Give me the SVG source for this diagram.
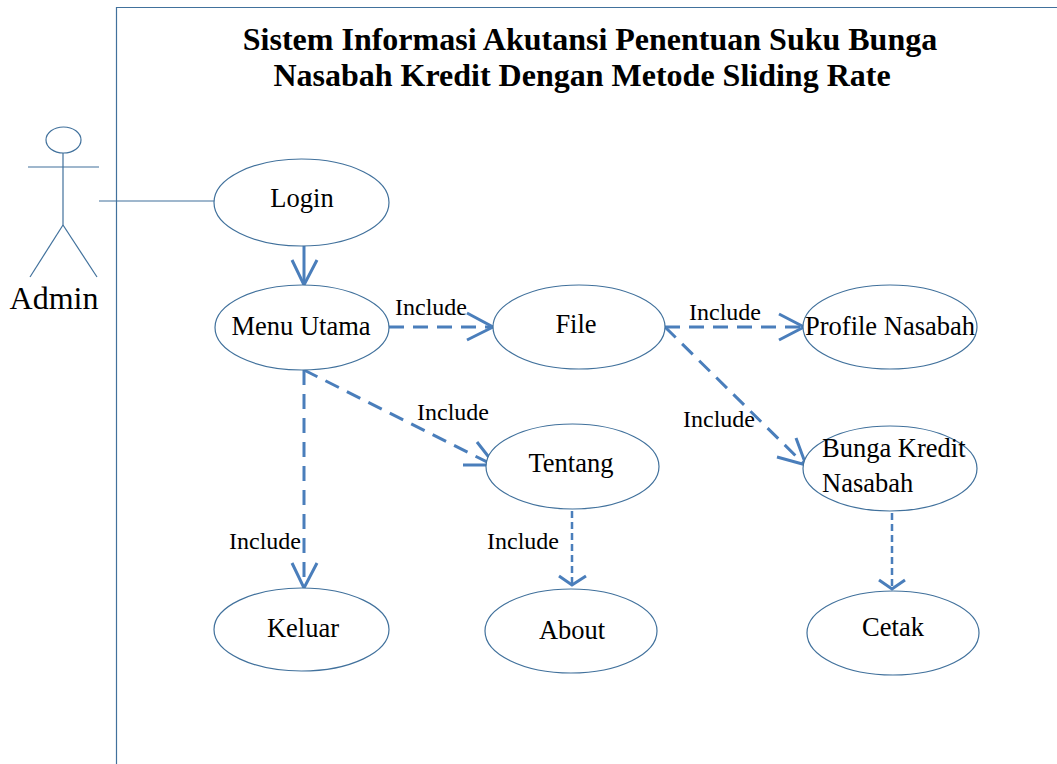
<svg xmlns="http://www.w3.org/2000/svg" width="1057" height="764" viewBox="0 0 1057 764">
  <style>
    .uc { fill: #ffffff; stroke: #41719c; stroke-width: 1.2; }
    .lbl { font-family: "Liberation Serif", "Times New Roman", serif; font-size: 26.5px; fill: #000; }
    .inc { font-family: "Liberation Serif", "Times New Roman", serif; font-size: 24px; fill: #000; }
    .title { font-family: "Liberation Serif", "Times New Roman", serif; font-size: 32px; font-weight: bold; fill: #000; }
    .actor { fill: none; stroke: #41719c; stroke-width: 1.2; }
    .dash { fill: none; stroke: #4a7ebb; stroke-width: 3; stroke-dasharray: 15 9; }
    .dash-s { fill: none; stroke: #4a7ebb; stroke-width: 2.5; stroke-dasharray: 7 4; }
    .head { fill: none; stroke: #4a7ebb; stroke-width: 3; stroke-linejoin: miter; }
    .solid { fill: none; stroke: #4a7ebb; stroke-width: 3; }
  </style>

  <!-- system boundary -->
  <g id="boundary">
    <path d="M116.5,764 V7.5 H1057" fill="none" stroke="#41719c" stroke-width="1.2"/>
    <text class="title" x="590" y="50" text-anchor="middle">Sistem Informasi Akutansi Penentuan Suku Bunga</text>
    <text class="title" x="582" y="86" text-anchor="middle">Nasabah Kredit Dengan Metode Sliding Rate</text>
  </g>

  <!-- actor -->
  <g id="admin">
    <ellipse class="actor" cx="63.5" cy="140" rx="17.5" ry="13"/>
    <line class="actor" x1="63" y1="153" x2="63" y2="225"/>
    <line class="actor" x1="28" y1="167" x2="99" y2="167"/>
    <line class="actor" x1="63" y1="225" x2="30" y2="277"/>
    <line class="actor" x1="63" y1="225" x2="97" y2="277"/>
    <text x="54" y="309" text-anchor="middle" font-family="'Liberation Serif', 'Times New Roman', serif" font-size="32">Admin</text>
  </g>

  <!-- connectors -->
  <g id="connectors">
    <!-- association -->
    <line x1="99" y1="201" x2="215" y2="201" stroke="#41719c" stroke-width="1.2"/>
    <!-- Login to Menu Utama -->
    <line class="solid" x1="304" y1="246" x2="304" y2="284"/>
    <path class="head" d="M292,260 L304,285 L317,260"/>
    <!-- Menu Utama to File -->
    <line class="dash" x1="389" y1="327" x2="492" y2="327"/>
    <path class="head" d="M467,313 L493,327 L467,340"/>
    <text class="inc" x="395" y="315">Include</text>
    <!-- File to Profile Nasabah -->
    <line class="dash" x1="665" y1="327" x2="802" y2="327"/>
    <path class="head" d="M779,314 L804,327 L779,340"/>
    <text class="inc" x="689" y="320">Include</text>
    <!-- File to Bunga Kredit Nasabah -->
    <line class="dash" x1="665" y1="327" x2="804" y2="464"/>
    <path class="head" d="M796,438 L806,465 L777,457"/>
    <text class="inc" x="683" y="427">Include</text>
    <!-- Menu Utama to Tentang -->
    <line class="dash" x1="304" y1="370" x2="493" y2="465"/>
    <path class="head" d="M477,442 L495,465 L463,465"/>
    <text class="inc" x="417" y="420">Include</text>
    <!-- Menu Utama to Keluar -->
    <line class="dash" x1="304" y1="370" x2="304" y2="587"/>
    <path class="head" d="M292,563 L304,588 L317,563"/>
    <text class="inc" x="229" y="549">Include</text>
    <!-- Tentang to About -->
    <line class="dash-s" x1="572" y1="511" x2="572" y2="584"/>
    <path class="head" d="M559,576 L572,585 L586,576" stroke-width="2.5"/>
    <text class="inc" x="487" y="549">Include</text>
    <!-- Bunga Kredit Nasabah to Cetak -->
    <line class="dash-s" x1="892" y1="513" x2="892" y2="588"/>
    <path class="head" d="M879,580 L892,589 L905,580" stroke-width="2.5"/>
  </g>

  <!-- use cases -->
  <g id="login">
    <ellipse class="uc" cx="301.5" cy="202.5" rx="87.5" ry="43.5"/>
    <text class="lbl" x="302" y="207" text-anchor="middle">Login</text>
  </g>
  <g id="menu-utama">
    <ellipse class="uc" cx="302" cy="327.5" rx="87" ry="42.5"/>
    <text class="lbl" x="301" y="335" text-anchor="middle">Menu Utama</text>
  </g>
  <g id="file">
    <ellipse class="uc" cx="579" cy="327" rx="86" ry="42"/>
    <text class="lbl" x="576" y="333" text-anchor="middle">File</text>
  </g>
  <g id="profile-nasabah">
    <ellipse class="uc" cx="890" cy="327" rx="87" ry="42"/>
    <text class="lbl" x="890" y="335" text-anchor="middle">Profile Nasabah</text>
  </g>
  <g id="tentang">
    <ellipse class="uc" cx="572.5" cy="466.5" rx="86.5" ry="42.5"/>
    <text class="lbl" x="571" y="472" text-anchor="middle">Tentang</text>
  </g>
  <g id="bunga-kredit-nasabah">
    <ellipse class="uc" cx="890" cy="468.5" rx="87" ry="42.5"/>
    <text class="lbl" x="822" y="457">Bunga Kredit</text>
    <text class="lbl" x="822" y="492">Nasabah</text>
  </g>
  <g id="keluar">
    <ellipse class="uc" cx="301.5" cy="629.5" rx="87.5" ry="41.5"/>
    <text class="lbl" x="303" y="637" text-anchor="middle">Keluar</text>
  </g>
  <g id="about">
    <ellipse class="uc" cx="571" cy="631" rx="86" ry="42"/>
    <text class="lbl" x="572" y="639" text-anchor="middle">About</text>
  </g>
  <g id="cetak">
    <ellipse class="uc" cx="893" cy="633" rx="86" ry="42"/>
    <text class="lbl" x="893" y="636" text-anchor="middle">Cetak</text>
  </g>
</svg>
